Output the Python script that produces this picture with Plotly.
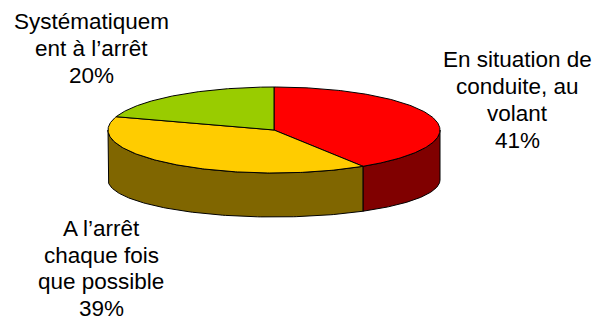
import numpy as np
import plotly.graph_objects as go

# ---- data ----
categories = ["En situation de conduite, au volant",
              "A l'arrêt chaque fois que possible",
              "Systématiquement à l'arrêt"]
values = [41, 39, 20]
label_lines = [
    ["En situation de", "conduite, au", "volant"],
    ["A l’arrêt", "chaque fois", "que possible"],
    ["Systématiquem", "ent à l’arrêt"],
]
top_colors = ["#FF0000", "#FFCC00", "#99CC00"]
side_colors = ["#800000", "#806600", "#4D6600"]

# ---- geometry (pixel space) ----
W, H = 609, 322
cx, cy, rx, ry = 274, 130, 166, 43
cyb, ryb = 180, 37

def top_pt(t):
    r = np.radians(t)
    return cx + rx * np.sin(r), cy - ry * np.cos(r)

def bot_pt(t):
    r = np.radians(t)
    return cx + rx * np.sin(r), cyb - ryb * np.cos(r)

total = sum(values)
bounds = np.concatenate([[0], np.cumsum(values) / total * 360.0])

fig = go.Figure()

# sides (front half: 90..270 deg)
for i in range(len(values)):
    a, b = max(bounds[i], 90), min(bounds[i + 1], 270)
    if b <= a:
        continue
    t = np.linspace(a, b, 120)
    xt, yt = top_pt(t)
    xb, yb = bot_pt(t[::-1])
    xs = np.concatenate([xt, xb, xt[:1]])
    ys = np.concatenate([yt, yb, yt[:1]])
    fig.add_trace(go.Scatter(x=xs, y=ys, mode="lines", fill="toself",
                             fillcolor=side_colors[i],
                             line=dict(color="black", width=1),
                             hoverinfo="skip", showlegend=False))

# tops
for i in range(len(values)):
    t = np.linspace(bounds[i], bounds[i + 1], 200)
    xt, yt = top_pt(t)
    xs = np.concatenate([[cx], xt, [cx]])
    ys = np.concatenate([[cy], yt, [cy]])
    fig.add_trace(go.Scatter(x=xs, y=ys, mode="lines", fill="toself",
                             fillcolor=top_colors[i],
                             line=dict(color="black", width=1),
                             hoverinfo="skip", showlegend=False,
                             name=categories[i]))

# labels: (center x, first baseline, line spacing)
label_pos = [(517.5, 67.7, 26.9), (101, 236.7, 26.5), (91.5, 29, 27)]
FS = 22.5
for i, lines in enumerate(label_lines):
    x0, y0, dy = label_pos[i]
    allines = lines + [f"{values[i]}%"]
    for k, txt in enumerate(allines):
        fig.add_annotation(x=x0, y=y0 + k * dy - 8, text=txt, showarrow=False,
                           xanchor="center", yanchor="middle",
                           font=dict(family="Liberation Sans, Arial", size=FS, color="black"))

fig.update_layout(width=W, height=H, margin=dict(l=0, r=0, t=0, b=0),
                  paper_bgcolor="white", plot_bgcolor="white",
                  xaxis=dict(range=[0, W], visible=False, fixedrange=True),
                  yaxis=dict(range=[H, 0], visible=False, fixedrange=True),
                  showlegend=False)
fig.write_html("out.html", config={"displayModeBar": False})
